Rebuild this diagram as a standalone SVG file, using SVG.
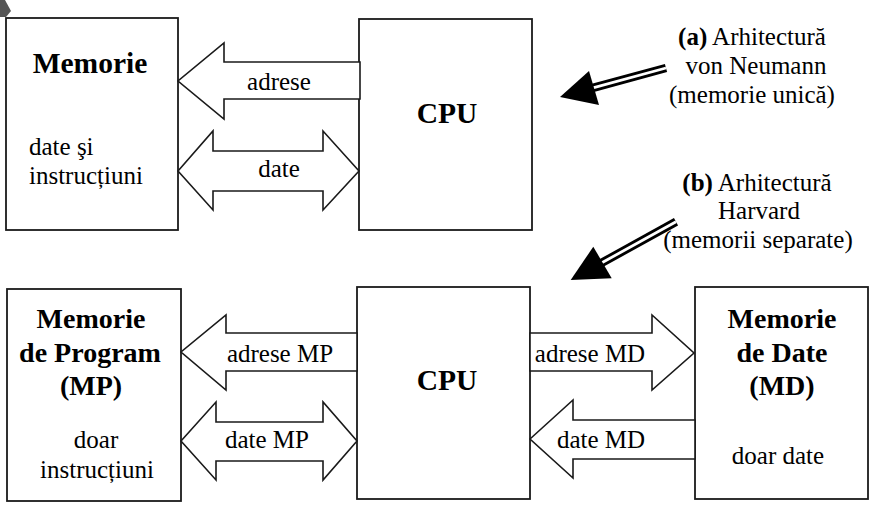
<svg xmlns="http://www.w3.org/2000/svg" width="872" height="523" viewBox="0 0 872 523">
<style>
.box{fill:#fff;stroke:#1a1a1a;stroke-width:1.8}
.bus{fill:#fff;stroke:#1a1a1a;stroke-width:1.6;stroke-linejoin:miter}
.t{font-family:"Liberation Serif","Times New Roman",serif;font-size:25px;fill:#000}
.b{font-family:"Liberation Serif","Times New Roman",serif;font-weight:bold;font-size:28px;fill:#000}
.bl{font-size:29.5px}
.m{text-anchor:middle}
.outer{stroke:#000;stroke-width:8.5;stroke-linecap:butt}
.inner{stroke:#fff;stroke-width:2.8;stroke-linecap:butt}
</style>
<rect width="872" height="523" fill="#fff"/>
<polygon points="0,0 5,0 11,11 6,17 0,17" fill="#555"/>

<g id="vn-memorie">
<rect class="box" x="6" y="18" width="172" height="212"/>
<text class="b bl m" x="90" y="73">Memorie</text>
<text class="t" x="29" y="155">date şi</text>
<text class="t" x="29" y="184">instrucțiuni</text>
</g>
<g id="vn-cpu">
<rect class="box" x="359" y="19" width="173" height="211"/>
<text class="b bl m" x="447" y="123">CPU</text>
</g>

<g id="hv-mp">
<rect class="box" x="7" y="289" width="174" height="212"/>
<text class="b m" x="91" y="328">Memorie</text>
<text class="b m" x="90" y="362">de Program</text>
<text class="b m" x="91" y="395">(MP)</text>
<text class="t m" x="96" y="448">doar</text>
<text class="t m" x="97" y="478">instrucțiuni</text>
</g>
<g id="hv-cpu">
<rect class="box" x="357" y="287" width="173" height="212"/>
<text class="b bl m" x="447" y="390">CPU</text>
</g>
<g id="hv-md">
<rect class="box" x="695" y="287" width="173" height="212"/>
<text class="b m" x="782" y="328">Memorie</text>
<text class="b m" x="782" y="362">de Date</text>
<text class="b m" x="782" y="395">(MD)</text>
<text class="t m" x="778" y="464">doar date</text>
</g>

<g id="label-a">
<text class="t m" x="752" y="45"><tspan font-weight="bold">(a)</tspan> Arhitectură</text>
<text class="t m" x="756" y="74">von Neumann</text>
<text class="t m" x="752" y="103">(memorie unică)</text>
</g>
<g id="label-b">
<text class="t m" x="757" y="191"><tspan font-weight="bold">(b)</tspan> Arhitectură</text>
<text class="t m" x="759" y="219">Harvard</text>
<text class="t m" x="758" y="248">(memorii separate)</text>
</g>

<g id="connectors">
<polygon class="bus" points="360,62 224,62 224,43 178,81 224,119 224,99 360,99"/>
<text class="t m" x="279" y="90">adrese</text>
<polygon class="bus" points="178,171 213,131 213,151 323,151 323,131 359,171 323,210 323,191 213,191 213,210"/>
<text class="t m" x="279" y="177">date</text>

<polygon class="bus" points="357,333 226,333 226,315 181,352 226,390 226,371 357,371"/>
<text class="t m" x="280" y="362">adrese MP</text>
<polygon class="bus" points="181,441 216,402 216,422 323,422 323,402 357,441 323,480 323,461 216,461 216,480"/>
<text class="t m" x="267" y="448">date MP</text>
<polygon class="bus" points="530,333 652,333 652,315 694,353 652,390 652,371 530,371"/>
<text class="t m" x="590" y="362">adrese MD</text>
<polygon class="bus" points="530,439 573,400 573,420 695,420 695,459 573,459 573,478"/>
<text class="t m" x="601" y="448">date MD</text>

<line class="outer" x1="666" y1="68" x2="592" y2="88.2"/>
<line class="inner" x1="666" y1="68" x2="592" y2="88.2"/>
<polygon points="560,97 589,71 599,105" fill="#000"/>

<line class="outer" x1="676" y1="221.7" x2="600" y2="263.8"/>
<line class="inner" x1="676" y1="221.7" x2="600" y2="263.8"/>
<polygon points="570.7,280 593.3,246.7 611.7,278.3" fill="#000"/>
</g>
</svg>
